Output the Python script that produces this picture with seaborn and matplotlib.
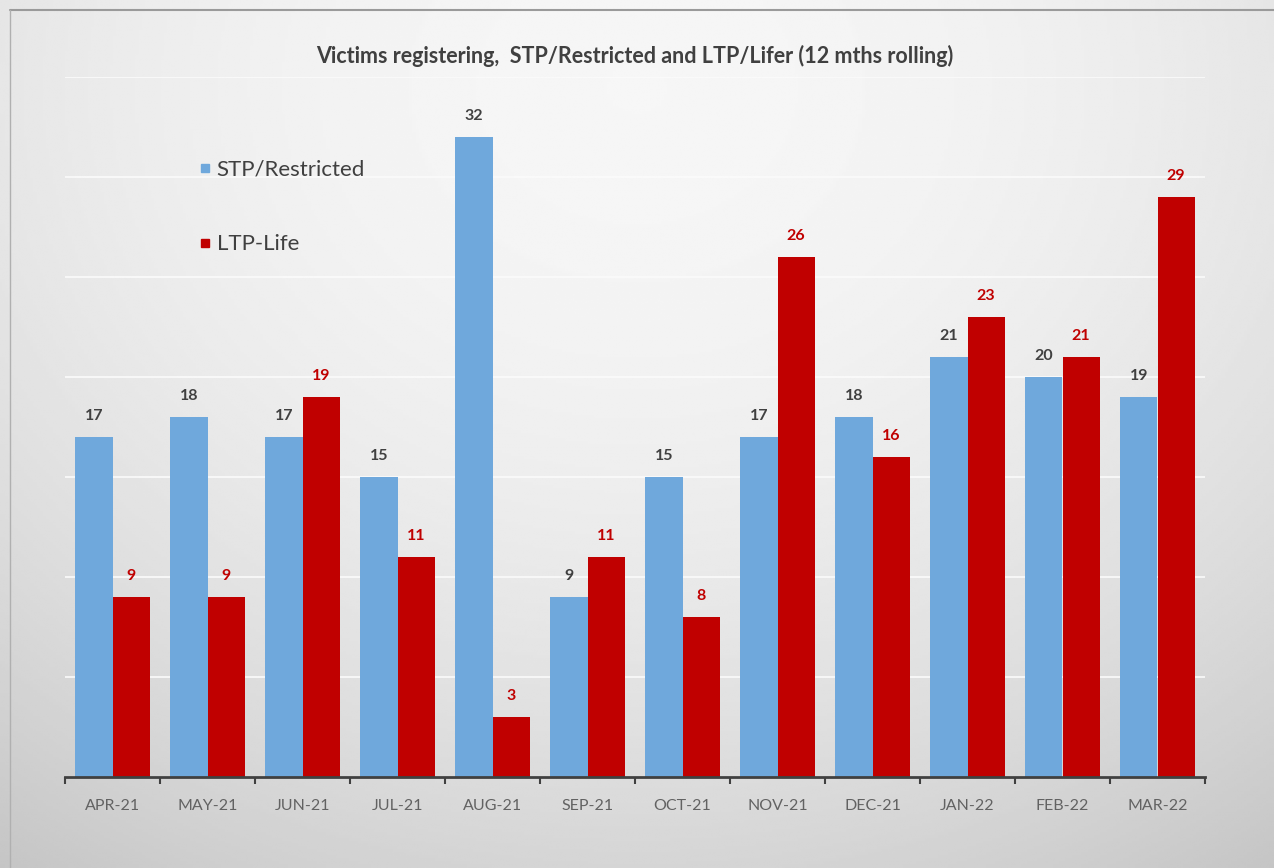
import numpy as np
import pandas as pd
import matplotlib
matplotlib.use("Agg")
import matplotlib.pyplot as plt
import seaborn as sns
from matplotlib.lines import Line2D
from matplotlib.ticker import FixedLocator

months = ["APR-21", "MAY-21", "JUN-21", "JUL-21", "AUG-21", "SEP-21",
          "OCT-21", "NOV-21", "DEC-21", "JAN-22", "FEB-22", "MAR-22"]
stp_restricted = [17, 18, 17, 15, 32, 9, 15, 17, 18, 21, 20, 19]
ltp_life = [9, 9, 19, 11, 3, 11, 8, 26, 16, 23, 21, 29]
series_names = ["STP/Restricted", "LTP-Life"]
title = "Victims registering,  STP/Restricted and LTP/Lifer (12 mths rolling)"

df = pd.DataFrame({
    "month": months * 2,
    "value": stp_restricted + ltp_life,
    "series": [series_names[0]] * len(months) + [series_names[1]] * len(months),
})

sns.set_theme(style="white")
plt.rcParams["font.family"] = ["Lato", "DejaVu Sans"]

W, H = 1274, 868
fig = plt.figure(figsize=(W / 100, H / 100), dpi=100)

# gradient background
bg = fig.add_axes([0, 0, 1, 1], zorder=-10)
yy, xx = np.mgrid[0:1:300j, 0:1:400j]
d2 = ((xx - 0.5) / 0.8) ** 2 + ((yy - 0.1) / 1.0) ** 2
grad = 0.965 - 0.16 * np.clip(d2, 0, 1.2)
bg.imshow(grad, cmap="gray", vmin=0, vmax=1, aspect="auto", extent=[0, 1, 1, 0],
          interpolation="bilinear")
bg.set_xlim(0, 1)
bg.set_ylim(1, 0)
bg.axis("off")
# frame lines (top, left)
bg.plot([10 / W, 1], [10 / H, 10 / H], color="#9a9a9a", lw=1.5)
bg.plot([10 / W, 10 / W], [10 / H, 1], color="#b0b0b0", lw=1.0)

ax = fig.add_axes([65 / W, 1 - 777 / H, 1140 / W, 700 / H])
ax.set_facecolor("none")

palette = {series_names[0]: "#6fa8dc", series_names[1]: "#c00000"}
sns.barplot(data=df, x="month", y="value", hue="series", order=months,
            hue_order=series_names, palette=palette, width=0.78, saturation=1,
            ax=ax, legend=True, linewidth=0)

ax.set_ylim(0, 35)
ax.set_xlim(-0.5, len(months) - 0.5)
ax.set_yticks(np.arange(0, 36, 5))
ax.yaxis.grid(True, color="#fbfbfb", lw=1.2)
ax.set_axisbelow(True)
ax.tick_params(axis="y", left=False, labelleft=False)
ax.set_xlabel("")
ax.set_ylabel("")
for s in ["top", "right", "left"]:
    ax.spines[s].set_visible(False)
ax.spines["bottom"].set_color("#404040")
ax.spines["bottom"].set_linewidth(2)

ax.tick_params(axis="x", which="major", bottom=False, labelsize=11.5,
               labelcolor="#626262", pad=10)
ax.xaxis.set_minor_locator(FixedLocator(np.arange(-0.5, len(months), 1)))
ax.tick_params(axis="x", which="minor", bottom=True, length=5, width=1.5,
               color="#404040", direction="out")

label_colors = ["#404040", "#c00000"]
for cont, c in zip(ax.containers, label_colors):
    ax.bar_label(cont, padding=10, color=c, fontsize=11.5, fontweight="bold")

ax.set_title(title, fontsize=15.5, fontweight="bold", color="#404040", y=1.0, pad=10)

handles = [Line2D([], [], marker="s", linestyle="none", markersize=6,
                  markerfacecolor=palette[n], markeredgecolor=palette[n])
           for n in series_names]
ax.legend(handles, series_names, loc="upper left", bbox_to_anchor=(0.1, 0.91),
          frameon=False, fontsize=16, labelcolor="#404040",
          labelspacing=2.45, handlelength=0.5, handletextpad=0.3)

fig.savefig("out.png", dpi=100)
